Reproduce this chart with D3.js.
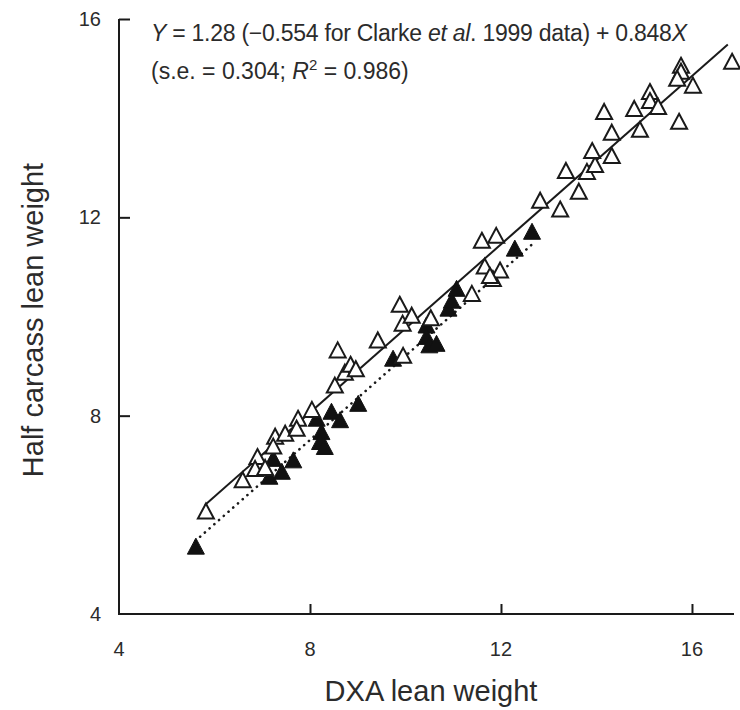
<!DOCTYPE html>
<html>
<head>
<meta charset="utf-8">
<script src="https://cdn.jsdelivr.net/npm/d3@7"></script>
<style>
  html, body { margin: 0; padding: 0; background: #fff; }
  svg text { font-family: "Liberation Sans", Arial, Helvetica, sans-serif; fill: #2b2b2b; }
</style>
</head>
<body>
<svg id="chart" width="740" height="710"></svg>
<script>
// Open triangles: DXA lean weight (x) vs half carcass lean weight (y)
const openX = [5.82, 6.59, 6.90, 6.85, 7.06, 7.27, 7.23, 7.48, 7.75, 7.72, 8.04, 8.52, 8.73, 8.85, 8.96,
  8.58, 9.42, 9.88, 9.94, 10.13, 9.95, 10.53, 11.39, 11.83, 11.66, 11.98, 11.77, 11.60, 11.90, 12.82,
  13.24, 13.36, 13.63, 13.80, 13.97, 13.91, 14.32, 14.32, 14.16, 14.91, 14.79, 15.12, 15.12, 15.29,
  15.73, 15.77, 15.77, 15.69, 16.02, 16.84];
const openY = [6.04, 6.67, 7.14, 6.90, 6.92, 7.55, 7.35, 7.61, 7.91, 7.71, 8.09, 8.58, 8.84, 9.00, 8.91,
  9.29, 9.49, 10.21, 9.83, 9.99, 9.18, 9.94, 10.43, 10.73, 10.98, 10.90, 10.79, 11.50, 11.60, 12.31,
  12.13, 12.91, 12.49, 12.89, 13.03, 13.31, 13.21, 13.68, 14.10, 13.74, 14.16, 14.50, 14.32, 14.20,
  13.90, 15.03, 14.91, 14.77, 14.63, 15.11];

// Filled triangles: Clarke et al. 1999 data
const clarkeX = [5.61, 7.15, 7.23, 7.41, 7.65, 8.14, 8.45, 8.63, 8.24, 8.21, 8.31, 9.01, 9.74,
  10.44, 10.44, 10.50, 10.65, 10.90, 10.97, 11.07, 12.29, 12.65];
const clarkeY = [5.33, 6.74, 7.10, 6.84, 7.07, 7.91, 8.05, 7.88, 7.64, 7.44, 7.34, 8.21, 9.12,
  9.79, 9.56, 9.39, 9.42, 10.13, 10.29, 10.53, 11.34, 11.68];

// Fitted model: common slope, separate intercepts
const intercept = 1.28;
const clarkeShift = -0.554;
const slope = 0.848;
const solidRange = [5.8, 16.75];
const dottedRange = [5.6, 12.7];

const xTicks = [4, 8, 12, 16];
const yTicks = [4, 8, 12, 16];

const svg = d3.select("#chart");
const x = d3.scaleLinear().domain([4, 16.88]).range([119, 734]);
const y = d3.scaleLinear().domain([4, 16]).range([614, 19]);

// Axes with inward ticks
const xAxis = d3.axisTop(x).tickValues(xTicks).tickSize(10).tickFormat("");
const yAxis = d3.axisRight(y).tickValues(yTicks).tickSize(11).tickFormat("");

const gx = svg.append("g").attr("transform", "translate(0,614)").call(xAxis);
const gy = svg.append("g").attr("transform", "translate(119,0)").call(yAxis);
[gx, gy].forEach(g => {
  g.select(".domain").attr("stroke", "#1a1a1a").attr("stroke-width", 2);
  g.selectAll(".tick line").attr("stroke", "#1a1a1a").attr("stroke-width", 2);
});
// plain axis lines without end stubs
gx.select(".domain").attr("d", `M${x.range()[0] - 1},0H${x.range()[1]}`);
gy.select(".domain").attr("d", `M0,${y.range()[0] + 1}V${y.range()[1]}`);
gy.selectAll(".tick").filter(d => d === 4).remove();
gx.selectAll(".tick").filter(d => d === 4).remove();

// Tick labels
svg.append("g").selectAll("text").data(xTicks).join("text")
  .attr("x", d => x(d)).attr("y", 656)
  .attr("text-anchor", "middle").attr("font-size", 20).text(d => d);
svg.append("g").selectAll("text").data(yTicks).join("text")
  .attr("x", 101).attr("y", d => y(d) + 7)
  .attr("text-anchor", "end").attr("font-size", 20).text(d => d);

// Axis titles
svg.append("text").attr("x", 431).attr("y", 701).attr("text-anchor", "middle")
  .attr("font-size", 29).text("DXA lean weight");
svg.append("text").attr("transform", "translate(43,320) rotate(-90)")
  .attr("text-anchor", "middle").attr("font-size", 29).text("Half carcass lean weight");

// Regression lines
const line = d3.line().x(d => x(d[0])).y(d => y(d[1]));
const fit = (b, r) => r.map(v => [v, b + slope * v]);
svg.append("path").attr("d", line(fit(intercept, solidRange)))
  .attr("fill", "none").attr("stroke", "#1a1a1a").attr("stroke-width", 2);
svg.append("path").attr("d", line(fit(intercept + clarkeShift, dottedRange)))
  .attr("fill", "none").attr("stroke", "#1a1a1a").attr("stroke-width", 2.6)
  .attr("stroke-linecap", "round").attr("stroke-dasharray", "0.1 6.2");

// Triangle marker
const tri = (w, h) => `M0,${-h * 0.62}L${w / 2},${h * 0.38}L${-w / 2},${h * 0.38}Z`;

svg.append("g").selectAll("path").data(clarkeX.map((v, i) => [v, clarkeY[i]])).join("path")
  .attr("transform", d => `translate(${x(d[0])},${y(d[1])})`)
  .attr("d", tri(17, 16)).attr("fill", "#111").attr("stroke", "#111").attr("stroke-width", 1);

svg.append("g").selectAll("path").data(openX.map((v, i) => [v, openY[i]])).join("path")
  .attr("transform", d => `translate(${x(d[0])},${y(d[1])})`)
  .attr("d", tri(16, 15)).attr("fill", "#fff").attr("stroke", "#1a1a1a").attr("stroke-width", 2);

// Equation annotation
const eq = svg.append("text").attr("x", 151).attr("y", 41).attr("font-size", 23)
  .attr("textLength", 536).attr("lengthAdjust", "spacing");
eq.append("tspan").attr("font-style", "italic").text("Y");
eq.append("tspan").text(" = 1.28 (\u22120.554 for Clarke ");
eq.append("tspan").attr("font-style", "italic").text("et al");
eq.append("tspan").text(". 1999 data) + 0.848");
eq.append("tspan").attr("font-style", "italic").text("X");

const se = svg.append("text").attr("x", 151).attr("y", 79).attr("font-size", 23);
se.append("tspan").text("(s.e. = 0.304; ");
se.append("tspan").attr("font-style", "italic").text("R");
se.append("tspan").attr("font-size", 15).attr("dy", -9).text("2");
se.append("tspan").attr("dy", 9).text(" = 0.986)");
</script>
</body>
</html>
